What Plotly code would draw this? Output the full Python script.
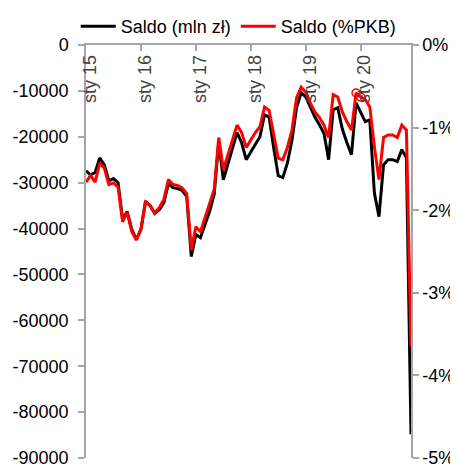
import pandas as pd
import plotly.graph_objects as go

months = list(pd.date_range("2015-01-01", "2020-12-01", freq="MS").strftime("%Y-%m"))

saldo_mln = [
    -27400, -28300, -27800, -24600, -26100, -29600, -29100, -30000, -38000, -36300, -40200, -42400,
    -40200, -34100, -35000, -36700, -35900, -34400, -30200, -31100, -31300, -31700, -33000, -46100,
    -41300, -42000, -39100, -36300, -32600, -21100, -29400, -26100, -22800, -19100, -21300, -25000,
    -23300, -21700, -20000, -15200, -15700, -22400, -28500, -28900, -25700, -20700, -13700, -10400,
    -11300, -13500, -15700, -17400, -19300, -25000, -14100, -13700, -18300, -21300, -23900, -12600,
    -14800, -16700, -16300, -32200, -37400, -26100, -25000, -25000, -25400, -22800, -24600, -84800,
]

saldo_pkb = [
    -1.66, -1.58, -1.66, -1.43, -1.49, -1.69, -1.67, -1.72, -2.14, -2.03, -2.26, -2.36,
    -2.23, -1.90, -1.94, -2.03, -1.97, -1.87, -1.63, -1.69, -1.70, -1.73, -1.80, -2.48,
    -2.20, -2.26, -2.09, -1.93, -1.75, -1.12, -1.51, -1.33, -1.15, -0.97, -1.06, -1.24,
    -1.15, -1.06, -0.99, -0.75, -0.79, -1.09, -1.37, -1.39, -1.24, -1.03, -0.64, -0.51,
    -0.57, -0.70, -0.81, -0.88, -0.97, -1.12, -0.60, -0.63, -0.81, -0.93, -1.03, -0.58,
    -0.63, -0.66, -0.75, -1.23, -1.63, -1.12, -1.09, -1.09, -1.12, -0.97, -1.03, -3.65,
]

tick_months = ["2015-01", "2016-01", "2017-01", "2018-01", "2019-01", "2020-01"]
tick_labels = ["sty 15", "sty 16", "sty 17", "sty 18", "sty 19", "sty 20"]

left_ticks = [0, -10000, -20000, -30000, -40000, -50000, -60000, -70000, -80000, -90000]
left_labels = ["0", "-10000", "-20000", "-30000", "-40000", "-50000", "-60000", "-70000", "-80000", "-90000"]
right_ticks = [0, -1, -2, -3, -4, -5]
right_labels = ["0%", "-1%", "-2%", "-3%", "-4%", "-5%"]

marked_months = ["2019-12", "2020-01"]

FONT = "Liberation Sans, Arial, sans-serif"
AXIS_COLOR = "#a6a6a6"
FS = 18

fig = go.Figure()
fig.add_trace(go.Scatter(
    x=months, y=saldo_mln, name="Saldo (mln zł)", mode="lines",
    line=dict(color="#000000", width=3), yaxis="y",
))
fig.add_trace(go.Scatter(
    x=months, y=saldo_pkb, name="Saldo (%PKB)", mode="lines",
    line=dict(color="#ff0000", width=3), yaxis="y2",
))
mk = [m in marked_months for m in months]
fig.add_trace(go.Scatter(
    x=[m for m, k in zip(months, mk) if k],
    y=[v for v, k in zip(saldo_pkb, mk) if k],
    mode="markers", showlegend=False, yaxis="y2",
    marker=dict(symbol="circle-open", size=8, color="#ff0000", line=dict(width=1.5)),
    hoverinfo="skip",
))

# page body has an 8px default margin, so the figure is 8px smaller in each direction
fig.update_layout(
    width=450, height=456,
    margin=dict(l=78, r=47, t=37, b=6, autoexpand=False),
    paper_bgcolor="white", plot_bgcolor="white",
    font=dict(family=FONT, size=FS, color="#000000"),
    showlegend=True,
    legend=dict(orientation="h", x=0.47, xanchor="center", y=1.0, yanchor="bottom",
                font=dict(size=FS), tracegroupgap=0, itemwidth=35,
                bgcolor="rgba(0,0,0,0)"),
    xaxis=dict(
        type="category", categoryorder="array", categoryarray=months,
        range=[0, len(months) - 1],
        side="top", showline=True, linecolor=AXIS_COLOR, linewidth=1.5,
        ticks="inside", ticklen=6, tickcolor=AXIS_COLOR, tickwidth=1.5,
        tickvals=tick_months, ticktext=tick_labels,
        ticklabelposition="inside", tickangle=-90, ticklabeloverflow="allow",
        ticklabelstandoff=-5, ticklabelshift=4,
        tickfont=dict(size=FS),
        showgrid=False, zeroline=False, automargin=False,
    ),
    yaxis=dict(
        range=[-90000, 0], tickvals=left_ticks, ticktext=left_labels,
        showline=True, linecolor=AXIS_COLOR, linewidth=1.5,
        ticks="outside", ticklen=6, tickcolor=AXIS_COLOR, tickwidth=1.5,
        showgrid=False, zeroline=False, ticklabelstandoff=6, automargin=False,
        ticklabeloverflow="allow", tickfont=dict(size=FS),
    ),
    yaxis2=dict(
        range=[-5, 0], tickvals=right_ticks, ticktext=right_labels,
        overlaying="y", side="right",
        showline=True, linecolor=AXIS_COLOR, linewidth=1.5,
        ticks="outside", ticklen=6, tickcolor=AXIS_COLOR, tickwidth=1.5,
        showgrid=False, zeroline=False, ticklabelstandoff=0, automargin=False,
        ticklabeloverflow="allow", tickfont=dict(size=FS),
    ),
)

fig.write_html("out.html")
